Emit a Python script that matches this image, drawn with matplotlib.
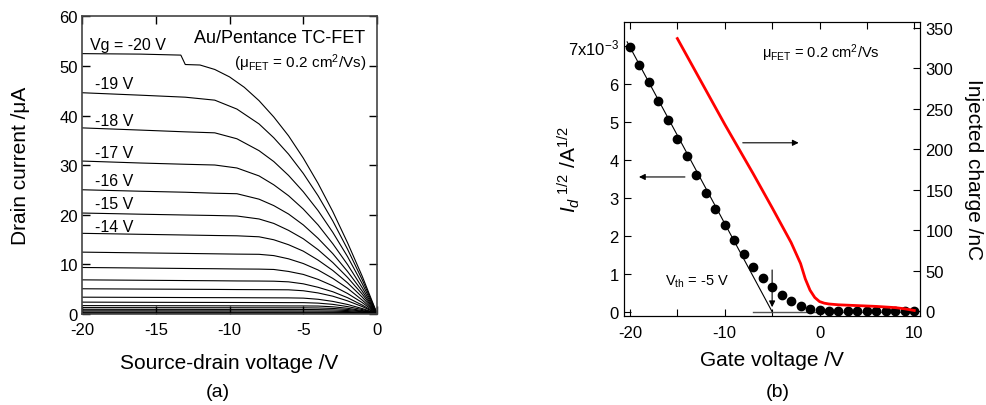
import numpy as np
import matplotlib
matplotlib.use("Agg")
import matplotlib.pyplot as plt

plt.rcParams['font.family'] = ['Liberation Sans', 'DejaVu Sans']
plt.rcParams['mathtext.fontset'] = 'custom'
plt.rcParams['mathtext.rm'] = 'Liberation Sans'
plt.rcParams['mathtext.it'] = 'Liberation Sans:italic'
plt.rcParams['mathtext.default'] = 'regular'
plt.rcParams['axes.unicode_minus'] = False

# ---- (a) output curves, drain current in uA ----
vd = [-20, -16, -13, -11, -9.5, -8, -7, -6, -5, -4, -3, -2, -1, 0]
gate_steps = [-19, -18, -17, -16, -15, -14, -13, -12, -11, -10,
              -9, -8, -7, -6, -5, -4, -3, -2, -1, 0]
id_curves = [
    [44.6, 44.1, 43.7, 43.1, 41.3, 38.3, 35.5, 32.2, 28.3, 23.8, 18.7, 13.0, 6.8, 0],
    [37.5, 37.05, 36.7, 36.5, 35.3, 32.9, 30.7, 27.9, 24.6, 20.8, 16.4, 11.5, 6.0, 0],
    [30.8, 30.4, 30.15, 30.0, 29.4, 27.8, 26.0, 23.8, 21.1, 17.9, 14.1, 9.9, 5.2, 0],
    [25.0, 24.7, 24.5, 24.3, 24.2, 23.1, 21.8, 20.1, 17.9, 15.2, 12.1, 8.5, 4.5, 0],
    [20.3, 20.06, 19.9, 19.8, 19.7, 19.1, 18.2, 16.8, 15.1, 12.9, 10.3, 7.3, 3.9, 0],
    [16.2, 16.0, 15.86, 15.76, 15.7, 15.5, 14.9, 13.9, 12.6, 10.8, 8.7, 6.2, 3.3, 0],
    [12.4, 12.25, 12.14, 12.06, 12.0, 11.96, 11.7, 11.05, 10.1, 8.8, 7.1, 5.1, 2.7, 0],
    [9.3, 9.19, 9.1, 9.05, 9.0, 8.97, 8.9, 8.5, 7.9, 6.9, 5.6, 4.05, 2.2, 0],
    [6.8, 6.72, 6.66, 6.62, 6.58, 6.56, 6.53, 6.4, 6.0, 5.3, 4.4, 3.2, 1.7, 0],
    [5.0, 4.94, 4.9, 4.87, 4.84, 4.82, 4.81, 4.79, 4.6, 4.16, 3.5, 2.56, 1.4, 0],
    [3.3, 3.26, 3.23, 3.21, 3.2, 3.18, 3.17, 3.16, 3.11, 2.88, 2.45, 1.83, 1.0, 0],
    [2.3, 2.27, 2.25, 2.24, 2.23, 2.22, 2.21, 2.2, 2.2, 2.1, 1.85, 1.4, 0.8, 0],
    [1.6, 1.58, 1.57, 1.56, 1.55, 1.54, 1.54, 1.53, 1.53, 1.51, 1.36, 1.06, 0.6, 0],
    [1.2, 1.19, 1.18, 1.17, 1.17, 1.16, 1.16, 1.15, 1.15, 1.12, 1.03, 0.82, 0.48, 0],
    [0.85, 0.84, 0.84, 0.83, 0.83, 0.82, 0.82, 0.82, 0.81, 0.79, 0.74, 0.6, 0.36, 0],
    [0.55, 0.55, 0.54, 0.54, 0.54, 0.53, 0.53, 0.53, 0.52, 0.51, 0.48, 0.4, 0.24, 0],
    [0.3, 0.3, 0.3, 0.3, 0.29, 0.29, 0.29, 0.29, 0.28, 0.28, 0.26, 0.22, 0.14, 0],
    [0.15, 0.15, 0.15, 0.15, 0.15, 0.15, 0.15, 0.14, 0.14, 0.14, 0.13, 0.11, 0.07, 0],
    [0.05, 0.05, 0.05, 0.05, 0.05, 0.05, 0.05, 0.05, 0.05, 0.05, 0.05, 0.04, 0.03, 0],
    [0, 0, 0, 0, 0, 0, 0, 0, 0, 0, 0, 0, 0, 0],
]
# Vg = -20 V sweep has a step near Vd = -13 V
vd_top = [-20, -16, -13.3, -13.0, -12, -11, -10, -9, -8, -7, -6, -5, -4, -3, -2, -1, 0]
id_top = [52.5, 52.4, 52.2, 50.3, 50.2, 49.3, 47.8, 45.7, 43.0, 39.7,
          35.9, 31.4, 26.3, 20.6, 14.3, 7.5, 0]

curve_labels = ['Vg = -20 V', '-19 V', '-18 V', '-17 V', '-16 V', '-15 V', '-14 V']
label_y = [54.4, 46.4, 39.0, 32.6, 26.8, 22.3, 17.6]

# ---- (b) transfer curve ----
vg = list(range(-20, 11))
sqrt_id = [6.97, 6.50, 6.04, 5.54, 5.05, 4.56, 4.09, 3.61, 3.14, 2.70,
           2.28, 1.89, 1.52, 1.18, 0.89, 0.64, 0.44, 0.28, 0.15, 0.08,
           0.04, 0.03, 0.03, 0.03, 0.03, 0.03, 0.03, 0.03, 0.03, 0.03, 0.03]  # x1e-3 A^1/2
fit_vg = [-20.3, -5]
fit_sqrt = [7.11, 0]
vg_q = [-15, -10, -7, -5, -3, -2.5, -2, -1.5, -1, -0.5, 0, 0.5, 1, 2, 4, 6, 8, 9, 10]
charge = [337, 231, 170, 128, 85, 72, 59, 40, 26, 17, 12, 10, 9, 8, 7, 6, 4.5, 3, 1]  # nC

fig = plt.figure(figsize=(9.87, 4.06), dpi=100)

# panel (a)
ax1 = fig.add_axes([0.0831, 0.2241, 0.2989, 0.7328])
ax1.plot(vd_top, id_top, color='black', lw=0.8)
for ys in id_curves:
    ax1.plot(vd, ys, color='black', lw=0.8)
for i, (txt, y) in enumerate(zip(curve_labels, label_y)):
    ax1.text(-19.45 if i == 0 else -19.1, y, txt, fontsize=11.5, va='center', ha='left')
ax1.text(-0.8, 55.8, 'Au/Pentance TC-FET', fontsize=13, ha='right', va='center')
ax1.text(-0.7, 50.8, '(μ$_{FET}$ = 0.2 cm$^{2}$/Vs)', fontsize=11, ha='right', va='center')
ax1.set_xlim(-20, 0)
ax1.set_ylim(-0.1, 60)
ax1.set_xticks([-20, -15, -10, -5, 0])
ax1.set_yticks(range(0, 61, 10))
ax1.tick_params(direction='in', length=6, width=1, labelsize=12,
                top=True, right=True, pad=3)
ax1.tick_params(axis='x', pad=6)
for sp in ax1.spines.values():
    sp.set_color('#444444')
    sp.set_linewidth(1.2)
ax1.set_xlabel('Source-drain voltage /V', fontsize=15)
ax1.xaxis.set_label_coords(0.5, -0.131)
ax1.set_ylabel('Drain current /μA', fontsize=15)
ax1.yaxis.set_label_coords(-0.176, 0.5)
ax1.text(0.461, -0.262, '(a)', transform=ax1.transAxes, fontsize=14,
         ha='center', va='center')

# panel (b)
ax2 = fig.add_axes([0.6325, 0.2185, 0.2996, 0.7256])
ax2.plot([-7, 10.4], [0, 0], color='#555555', lw=1)
ax2.plot(fit_vg, np.array(fit_sqrt) * 1e-3, color='black', lw=0.8)
ax2.plot(vg, np.array(sqrt_id) * 1e-3, 'o', color='black', ms=6, zorder=5)
ax2.annotate('', xy=(-19.05, 3.55e-3), xytext=(-14.2, 3.55e-3),
             arrowprops=dict(arrowstyle='-|>', color='black', lw=0.8,
                             mutation_scale=9, shrinkA=0, shrinkB=0))
ax2.annotate('', xy=(-5, 0.12e-3), xytext=(-5, 1.1e-3),
             arrowprops=dict(arrowstyle='-|>', color='black', lw=0.8,
                             mutation_scale=9, shrinkA=0, shrinkB=0))
ax2.annotate('', xy=(-2.2, 4.45e-3), xytext=(-8.1, 4.45e-3),
             arrowprops=dict(arrowstyle='-|>', color='black', lw=0.8,
                             mutation_scale=9, shrinkA=0, shrinkB=0))
ax2.text(-16.3, 0.82e-3, 'V$_{th}$ = -5 V', fontsize=10.5, va='center', ha='left')
ax2.text(-6.03, 6.83e-3, 'μ$_{FET}$ = 0.2 cm$^{2}$/Vs', fontsize=10.5, va='center', ha='left')
ax2.set_xlim(-20.6, 10.6)
ax2.set_ylim(-0.12e-3, 7.64e-3)
ax2.set_xticks([-20, -10, 0, 10])
ax2.set_xticks([-15, -5, 5], minor=True)
ax2.set_yticks(np.arange(8) * 1e-3)
ax2.set_yticklabels(['0', '1', '2', '3', '4', '5', '6', '7x10$^{-3}$'])
ax2.tick_params(which='both', direction='in', length=5, width=0.8, labelsize=12,
                top=True, pad=4)
ax2.tick_params(axis='x', pad=6)
ax2.set_xlabel('Gate voltage /V', fontsize=15)
ax2.xaxis.set_label_coords(0.5, -0.114)
ax2.set_ylabel('$\\mathit{I_d}^{\\ 1/2}$ /A$^{1/2}$', fontsize=15)
ax2.yaxis.set_label_coords(-0.143, 0.5)
ax2.text(0.52, -0.254, '(b)', transform=ax2.transAxes, fontsize=14,
         ha='center', va='center')

ax3 = ax2.twinx()
ax3.plot(vg_q, charge, color='#ff0000', lw=2)
ax3.set_ylim(-6.2, 357.8)
ax3.set_yticks(range(0, 351, 50))
ax3.tick_params(direction='in', length=5, width=0.8, labelsize=12, pad=4)
ax3.set_ylabel('Injected charge /nC', fontsize=15, rotation=270, va='bottom')
ax3.yaxis.set_label_coords(1.148, 0.5)

fig.savefig('out.png', dpi=100)
